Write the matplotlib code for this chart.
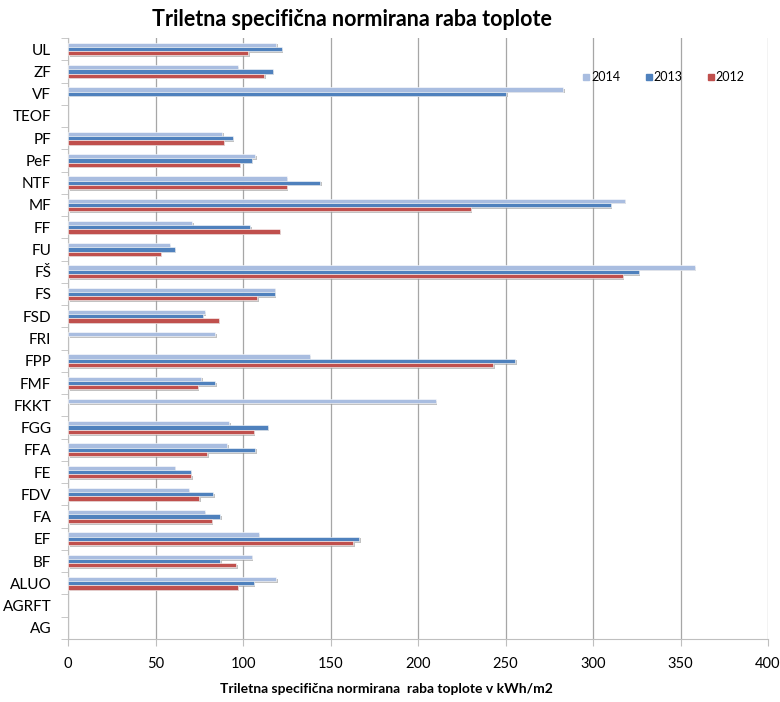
import numpy as np
import matplotlib.pyplot as plt
import matplotlib.patheffects as pe
from matplotlib.lines import Line2D

# categories from bottom to top
faculties = ["AG", "AGRFT", "ALUO", "BF", "EF", "FA", "FDV", "FE", "FFA", "FGG",
             "FKKT", "FMF", "FPP", "FRI", "FSD", "FS", "FŠ", "FU", "FF", "MF",
             "NTF", "PeF", "PF", "TEOF", "VF", "ZF", "UL"]

# kWh/m2, NaN = no data
raba_2014 = [np.nan, np.nan, 119, 105, 109, 78, 69, 61, 91, 92,
             210, 76, 138, 84, 78, 118, 358, 58, 71, 318,
             125, 107, 88, np.nan, 283, 97, 119]
raba_2013 = [np.nan, np.nan, 106, 87, 166.5, 87, 83, 70, 107, 114,
             np.nan, 84, 255.5, np.nan, 77, 118, 326, 61, 104, 310,
             144, 105, 94, np.nan, 250.5, 117, 122]
raba_2012 = [np.nan, np.nan, 97, 96, 163, 82, 75, 70.5, 79.5, 106,
             np.nan, 74, 243, np.nan, 86, 108, 317, 53, 121, 230,
             125, 98, 89, np.nan, np.nan, 112, 103]

series = [("2014", raba_2014, "#A9BDE0"),
          ("2013", raba_2013, "#4F81BD"),
          ("2012", raba_2012, "#C0504D")]

plt.rcParams["font.family"] = ["Lato", "DejaVu Sans"]

fig = plt.figure(figsize=(7.8, 7.02), dpi=100)
ax = fig.add_axes([68 / 780, 1 - 639 / 702, 700 / 780, 601 / 702])

y = np.arange(len(faculties))
h = 0.19
shadow = [pe.SimplePatchShadow(offset=(1.2, -1.2), shadow_rgbFace="#9a9a9a", alpha=0.6), pe.Normal()]
handles = []
for i, (lab, vals, col) in enumerate(series):
    bars = ax.barh(y + (1 - i) * h, vals, height=h, color=col,
                   edgecolor="white", linewidth=0.4, zorder=3)
    for b in bars:
        b.set_path_effects(shadow)
    handles.append(Line2D([], [], marker="s", linestyle="none", color=col,
                          markersize=5, label=lab))

ax.set_xlim(0, 400)
ax.set_ylim(-0.5, len(faculties) - 0.5)
ax.set_xticks(np.arange(0, 401, 50))
ax.set_yticks(y)
ax.set_yticklabels(faculties)
ax.set_yticks(np.arange(-0.5, len(faculties), 1), minor=True)
ax.tick_params(axis="y", which="major", length=0, labelsize=11, pad=12)
ax.tick_params(axis="y", which="minor", length=5, color="#BFBFBF")
ax.tick_params(axis="x", length=5, color="#BFBFBF", labelsize=10.5, pad=8)
ax.xaxis.grid(True, color="#A6A6A6", linewidth=0.9, zorder=0)
ax.set_axisbelow(True)
for s in ["top", "right"]:
    ax.spines[s].set_visible(False)
for s in ["left", "bottom"]:
    ax.spines[s].set_color("#BFBFBF")

fig.text(386 / 780, 1 - 689 / 702, "Triletna specifična normirana  raba toplote v kWh/m2",
         ha="center", va="center", fontsize=10, fontweight="bold")
fig.text(352 / 780, 1 - 20 / 702, "Triletna specifična normirana raba toplote",
         ha="center", va="center", fontsize=15.5, fontweight="bold")

ax.legend(handles=handles, loc="center left", bbox_to_anchor=(0.72, 0.935), ncol=3,
          frameon=False, fontsize=9, handlelength=0.5, columnspacing=2.0,
          handletextpad=0.15)

fig.savefig("out.png", dpi=100)
